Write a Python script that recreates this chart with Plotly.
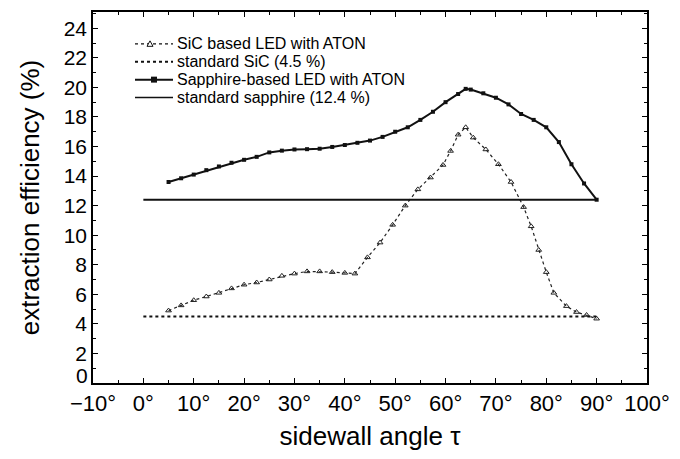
import plotly.graph_objects as go

sic_x = [5, 7.5, 10, 12.5, 15, 17.5, 20, 22.5, 25, 27.5, 30, 32.5, 35, 37.5, 40, 42,
         44.5, 47, 49.5, 52, 54.5, 57, 59.5, 61, 62.5, 64, 65.5, 68, 70.5, 73, 75.5,
         77, 78.5, 80, 81.5, 84, 86, 88, 90]
sic_y = [4.9, 5.25, 5.6, 5.85, 6.1, 6.4, 6.65, 6.8, 7.0, 7.25, 7.4, 7.55, 7.55, 7.5, 7.45, 7.4,
         8.5, 9.5, 10.7, 12.0, 13.1, 13.9, 14.75, 15.7, 16.8, 17.3, 16.6, 15.8, 14.8, 13.6, 11.9,
         10.6, 9.0, 7.5, 6.1, 5.2, 4.8, 4.6, 4.35]

sap_x = [5, 7.5, 10, 12.5, 15, 17.5, 20, 22.5, 25, 27.5, 30, 32.5, 35, 37.5, 40, 42.5,
         45, 47.5, 50, 52.5, 55, 57.5, 60, 62.5, 64, 65, 67.5, 70, 72.5, 75, 77.5, 80,
         82.5, 85, 87.5, 90]
sap_y = [13.6, 13.85, 14.1, 14.4, 14.65, 14.9, 15.1, 15.3, 15.6, 15.72, 15.8, 15.82, 15.85,
         15.97, 16.1, 16.25, 16.4, 16.65, 17.0, 17.3, 17.8, 18.35, 19.0, 19.55, 19.9, 19.85,
         19.6, 19.3, 18.85, 18.2, 17.8, 17.3, 16.3, 14.8, 13.5, 12.4]

std_x = [0, 90]
std_sic = [4.5, 4.5]
std_sap = [12.4, 12.4]

names = ["SiC based LED with ATON", "standard SiC (4.5 %)",
         "Sapphire-based LED with ATON", "standard sapphire (12.4 %)"]

x_tickvals = [-10, 0, 10, 20, 30, 40, 50, 60, 70, 80, 90, 100]
x_ticktext = ["\u221210\u00b0", "0\u00b0", "10\u00b0", "20\u00b0", "30\u00b0", "40\u00b0",
              "50\u00b0", "60\u00b0", "70\u00b0", "80\u00b0", "90\u00b0", "100\u00b0"]
y_tickvals = [0, 2, 4, 6, 8, 10, 12, 14, 16, 18, 20, 22, 24]
# the "0" label is drawn raised above its tick (as in the original) to clear the x labels
y_ticktext = [""] + [str(v) for v in y_tickvals[1:]]

FONT = "Liberation Sans, Arial, Helvetica"
INK = "#111"

fig = go.Figure()
fig.add_trace(go.Scatter(x=sic_x, y=sic_y, name=names[0], mode="lines+markers",
                         line=dict(color="#222", width=1.2, dash="dot"),
                         marker=dict(symbol="triangle-up-open", size=5, color="#222",
                                     line=dict(width=1))))
fig.add_trace(go.Scatter(x=std_x, y=std_sic, name=names[1], mode="lines",
                         line=dict(color=INK, width=2, dash="dot")))
fig.add_trace(go.Scatter(x=sap_x, y=sap_y, name=names[2], mode="lines+markers",
                         line=dict(color=INK, width=2),
                         marker=dict(symbol="square", size=4, color=INK)))
fig.add_trace(go.Scatter(x=std_x, y=std_sap, name=names[3], mode="lines",
                         line=dict(color=INK, width=2)))

axis_common = dict(showgrid=False, zeroline=False, showline=True, linecolor="black",
                   linewidth=1.5, mirror="ticks", ticks="inside", tickcolor="black",
                   tickwidth=1.2, ticklen=5)

fig.update_xaxes(range=[-10, 100], tickvals=x_tickvals, ticktext=x_ticktext,
                 tickfont=dict(family=FONT, size=22, color="black"),
                 minor=dict(dtick=5, tick0=0, ticks="inside", ticklen=3, tickcolor="black"),
                 title=dict(text="sidewall angle \u03c4", standoff=12,
                            font=dict(family=FONT, size=26, color="black")),
                 **axis_common)
fig.update_yaxes(range=[0, 25.1], tickvals=y_tickvals, ticktext=y_ticktext,
                 tickfont=dict(family=FONT, size=21, color="black"),
                 minor=dict(dtick=1, tick0=0, ticks="inside", ticklen=3, tickcolor="black"),
                 title=dict(text="extraction efficiency (%)", standoff=17,
                            font=dict(family=FONT, size=26, color="black")),
                 **axis_common)

# Hand-drawn legend (tighter row spacing than Plotly's built-in legend allows)
L, R, T, B = 93, 33, 10, 76
W, H = 680, 459
pw, ph = W - L - R, H - T - B
def px_x(p):
    return (p - L) / pw
def px_y(p):
    return (H - B - p) / ph

row_px = [42, 60, 78, 96]
line_x0, line_x1, text_x = 135, 173, 176
styles = [dict(dash="dot", width=1.2), dict(dash="dot", width=2),
          dict(dash="solid", width=2), dict(dash="solid", width=1.5)]
shapes = []
annotations = []
for name, ry, st in zip(names, row_px, styles):
    shapes.append(dict(type="line", xref="paper", yref="paper",
                       x0=px_x(line_x0), x1=px_x(line_x1), y0=px_y(ry), y1=px_y(ry),
                       line=dict(color=INK, width=st["width"], dash=st["dash"])))
    annotations.append(dict(text=name, xref="paper", yref="paper", x=px_x(text_x),
                            y=px_y(ry), xanchor="left", yanchor="middle", showarrow=False,
                            borderpad=0,
                            font=dict(family=FONT, size=16, color="black")))
# raised "0" label of the y axis
annotations.append(dict(text=str(y_tickvals[0]), xref="paper", yref="y", x=0, y=y_tickvals[0],
                        xanchor="right", yanchor="middle", xshift=-4, yshift=8,
                        showarrow=False, borderpad=0,
                        font=dict(family=FONT, size=21, color="black")))
# legend sample markers
cx, cy = 150, row_px[0]
shapes.append(dict(type="path", xref="paper", yref="paper",
                   path="M {} {} L {} {} L {} {} Z".format(px_x(cx - 3), px_y(cy + 2.5),
                                                          px_x(cx + 3), px_y(cy + 2.5),
                                                          px_x(cx), px_y(cy - 3)),
                   line=dict(color=INK, width=1), fillcolor="white"))
sx, sy = 154, row_px[2]
shapes.append(dict(type="rect", xref="paper", yref="paper",
                   x0=px_x(sx - 3), x1=px_x(sx + 3), y0=px_y(sy + 3), y1=px_y(sy - 3),
                   line=dict(color=INK, width=0), fillcolor=INK))

fig.update_layout(
    width=W, height=H,
    margin=dict(l=L, r=R, t=T, b=B),
    paper_bgcolor="white", plot_bgcolor="white",
    showlegend=False,
    shapes=shapes, annotations=annotations,
)

fig.write_html("out.html")
